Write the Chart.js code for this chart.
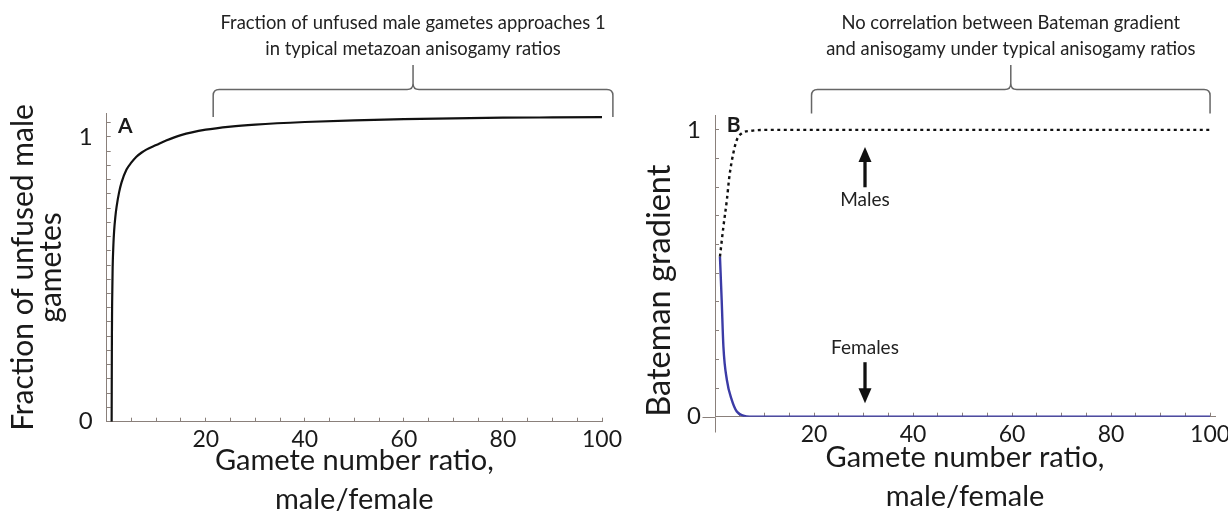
<!DOCTYPE html>
<html>
<head>
<meta charset="utf-8">
<script src="https://cdn.jsdelivr.net/npm/chart.js@4/dist/chart.umd.min.js"></script>
<style>
  html, body { margin: 0; padding: 0; background: #fff; }
  #wrap { position: relative; width: 1228px; height: 516px; overflow: hidden; }
  canvas { position: absolute; top: 0; }
</style>
</head>
<body>
<div id="wrap">
  <canvas id="chartA" width="640" height="516" style="left:0"></canvas>
  <canvas id="chartB" width="614" height="516" style="left:614px"></canvas>
</div>
<script>
// panel A: fraction of unfused male gametes vs gamete number ratio
const ratioA = [1, 1.05, 1.1, 1.2, 1.35, 1.5, 1.75, 2, 2.5, 3, 4, 5, 6, 7, 8, 10, 12, 15, 20, 25, 30, 40, 50, 60, 70, 80, 90, 100];
const unfusedA = [0, 0.3, 0.42, 0.54, 0.62, 0.67, 0.72, 0.755, 0.805, 0.84, 0.885, 0.91, 0.93, 0.944, 0.955, 0.971, 0.987, 1.006, 1.025, 1.036, 1.043, 1.052, 1.058, 1.062, 1.065, 1.067, 1.068, 1.069];

// panel B: Bateman gradient
const ratioMales = [1, 1.7, 2.4, 2.9, 3.7, 4.4, 5.4, 7.4, 10, 20, 40, 60, 80, 100];
const gradMales = [0.558, 0.663, 0.756, 0.837, 0.919, 0.965, 0.988, 0.997, 1, 1, 1, 1, 1, 1];
const ratioFemales = [1, 1.35, 1.7, 2.4, 3.4, 4.4, 5.7, 7, 10, 20, 40, 60, 80, 100];
const gradFemales = [0.558, 0.407, 0.244, 0.128, 0.058, 0.018, 0.004, 0, 0, 0, 0, 0, 0, 0];

const xTickLabels = [20, 40, 60, 80, 100];
const yTickLabels = [0, 1];

const axisColor = '#8a807b';
const ink = '#1a1a1a';

Chart.defaults.font.family = 'Lato';
Chart.defaults.color = ink;

const pts = (xs, ys) => xs.map((x, i) => ({ x, y: ys[i] }));
const tickLabel = (list) => (v) => {
  const hit = list.find((t) => Math.abs(t - v) < 1e-6);
  return hit === undefined ? '' : String(hit);
};

function xScale(max, height, padBottom) {
  return {
    type: 'linear', position: 'bottom', min: 0, max,
    grid: { drawOnChartArea: false, tickLength: -4, tickColor: axisColor },
    border: { color: axisColor, width: 1 },
    ticks: {
      stepSize: 5, autoSkip: false, includeBounds: false, maxRotation: 0, padding: 8,
      font: { size: 23 }, color: ink, callback: tickLabel(xTickLabels),
    },
    title: {
      display: true, text: ['Gamete number ratio,', 'male/female'], color: ink,
      font: { size: 29, lineHeight: '39px' }, padding: { top: 0, bottom: padBottom },
    },
    afterFit: (s) => { s.height = height; s.paddingLeft = 0; s.paddingRight = 0; },
  };
}

function yScale(max, step, title, size, lineHeight, padTop, width, align) {
  return {
    type: 'linear', position: 'left', min: 0, max,
    grid: { drawOnChartArea: false, tickLength: -4, tickColor: axisColor },
    border: { color: axisColor, width: 1 },
    ticks: {
      stepSize: step, autoSkip: false, includeBounds: false, padding: 18,
      font: { size: 24 }, color: ink, callback: tickLabel(yTickLabels),
    },
    title: {
      display: true, text: title, color: ink, align,
      font: { size, lineHeight }, padding: { top: padTop, bottom: 0 },
    },
    afterFit: (s) => { s.width = width; s.paddingTop = 0; s.paddingBottom = 0; },
  };
}

function arrow(ctx, x, yFrom, yTip) {
  const dir = Math.sign(yTip - yFrom), head = 14, hw = 6.5;
  ctx.lineWidth = 3.3;
  ctx.beginPath();
  ctx.moveTo(x, yFrom);
  ctx.lineTo(x, yTip - dir * head);
  ctx.stroke();
  ctx.beginPath();
  ctx.moveTo(x, yTip);
  ctx.lineTo(x - hw, yTip - dir * (head + 1));
  ctx.lineTo(x + hw, yTip - dir * (head + 1));
  ctx.closePath();
  ctx.fill();
}

// braces, captions, panel letters, arrows
const notes = {
  id: 'notes',
  afterDraw(chart, args, o) {
    const { ctx, scales: { x, y } } = chart;
    ctx.save();
    ctx.fillStyle = ink;
    ctx.strokeStyle = ink;

    ctx.font = 'bold 21px Lato';
    ctx.textAlign = 'left';
    ctx.textBaseline = 'alphabetic';
    ctx.fillText(o.letter, o.letterAt[0], o.letterAt[1]);

    const xl = x.getPixelForValue(o.brace[0]);
    const xr = x.getPixelForValue(o.brace[1]);
    const xm = (xl + xr) / 2;
    const yh = 89.5, yt = 65, ye = o.braceEnd, r = 6;
    ctx.strokeStyle = '#666';
    ctx.lineWidth = 1.5;
    ctx.beginPath();
    ctx.moveTo(xl, ye);
    ctx.lineTo(xl, yh + r);
    ctx.quadraticCurveTo(xl, yh, xl + r, yh);
    ctx.lineTo(xm - r, yh);
    ctx.quadraticCurveTo(xm, yh, xm, yh - r);
    ctx.lineTo(xm, yt);
    ctx.lineTo(xm, yh - r);
    ctx.quadraticCurveTo(xm, yh, xm + r, yh);
    ctx.lineTo(xr - r, yh);
    ctx.quadraticCurveTo(xr, yh, xr, yh + r);
    ctx.lineTo(xr, ye);
    ctx.stroke();

    ctx.font = '18.4px Lato';
    ctx.textAlign = 'center';
    ctx.fillStyle = '#222';
    o.caption.forEach((t, i) => ctx.fillText(t, xm, 28.5 + i * 26.5));

    if (o.stubs) {
      const x0 = Math.round(x.getPixelForValue(0)) + 0.5;
      const y0 = Math.round(y.getPixelForValue(0)) + 0.5;
      ctx.strokeStyle = axisColor;
      ctx.lineWidth = 1;
      ctx.beginPath();
      ctx.moveTo(x0 - 13, y0);
      ctx.lineTo(x0, y0);
      ctx.moveTo(x0, y0);
      ctx.lineTo(x0, y0 + 15);
      ctx.stroke();
    }

    (o.arrows || []).forEach((a) => {
      const ax = x.getPixelForValue(a.x);
      ctx.fillStyle = '#111';
      ctx.strokeStyle = '#111';
      arrow(ctx, ax, y.getPixelForValue(a.from), y.getPixelForValue(a.to));
      ctx.font = '19px Lato';
      ctx.fillStyle = '#222';
      ctx.fillText(a.label, ax, y.getPixelForValue(a.labelY));
    });
    ctx.restore();
  },
};

new Chart(document.getElementById('chartA'), {
  type: 'line',
  data: {
    datasets: [{
      data: pts(ratioA, unfusedA),
      borderColor: '#111', borderWidth: 2.2, pointRadius: 0,
      cubicInterpolationMode: 'monotone', fill: false,
    }],
  },
  options: {
    responsive: false, animation: false,
    layout: { padding: { left: 0, right: 38, top: 113.3, bottom: 0 } },
    scales: {
      x: xScale(100, 94.3, -3.5),
      y: yScale(1.0825, 0.05, ['Fraction of unfused male', 'gametes'], 30, '28px', 9, 106.7, 'center'),
    },
    plugins: {
      legend: { display: false }, tooltip: { enabled: false },
      notes: {
        letter: 'A', letterAt: [118, 133.3],
        brace: [21.5, 102.2], braceEnd: 117,
        caption: ['Fraction of unfused male gametes approaches 1', 'in typical metazoan anisogamy ratios'],
      },
    },
  },
  plugins: [notes],
});

new Chart(document.getElementById('chartB'), {
  type: 'line',
  data: {
    datasets: [
      {
        label: 'Males', data: pts(ratioMales, gradMales),
        borderColor: '#111', borderWidth: 2.4, borderDash: [3, 3.5], pointRadius: 0,
        cubicInterpolationMode: 'monotone', fill: false,
      },
      {
        label: 'Females', data: pts(ratioFemales, gradFemales),
        borderColor: '#3b3ba6', borderWidth: 2.4, pointRadius: 0,
        cubicInterpolationMode: 'monotone', fill: false,
      },
    ],
  },
  options: {
    responsive: false, animation: false,
    layout: { padding: { left: 0, right: 13, top: 115, bottom: 0 } },
    scales: {
      x: xScale(101, 99.3, 0),
      y: yScale(1.052, 0.1, 'Bateman gradient', 32.5, '32px', 30, 101, 'start'),
    },
    plugins: {
      legend: { display: false }, tooltip: { enabled: false },
      notes: {
        letter: 'B', letterAt: [112.7, 131.7],
        brace: [19.5, 100], braceEnd: 113.5,
        caption: ['No correlation between Bateman gradient', 'and anisogamy under typical anisogamy ratios'],
        stubs: true,
        arrows: [
          { x: 30.3, from: 0.80, to: 0.94, label: 'Males', labelY: 0.733 },
          { x: 30.3, from: 0.19, to: 0.047, label: 'Females', labelY: 0.219 },
        ],
      },
    },
  },
  plugins: [notes],
});
</script>
</body>
</html>
